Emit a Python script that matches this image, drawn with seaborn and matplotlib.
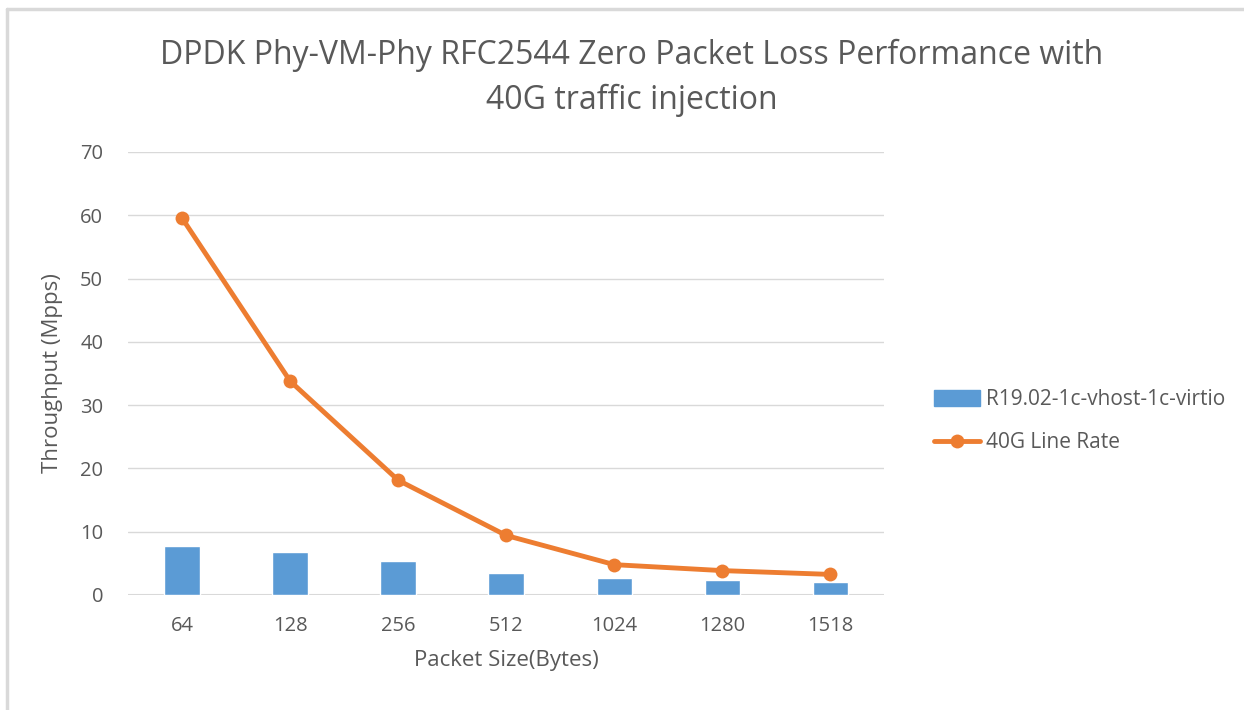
import pandas as pd
import matplotlib.pyplot as plt
import matplotlib.lines as mlines
import seaborn as sns

packet_sizes = ['64', '128', '256', '512', '1024', '1280', '1518']
vhost_virtio = [7.68, 6.81, 5.35, 3.51, 2.70, 2.43, 2.05]
line_rate = [59.52, 33.78, 18.12, 9.40, 4.79, 3.85, 3.25]

bar_name = 'R19.02-1c-vhost-1c-virtio'
line_name = '40G Line Rate'

df = pd.DataFrame({'size': packet_sizes, 'bar': vhost_virtio, 'line': line_rate})

sns.set_theme(style="white")
plt.rcParams['font.family'] = ['Open Sans', 'DejaVu Sans']

text_gray = '#595959'
grid_gray = '#d9d9d9'

fig = plt.figure(figsize=(12.44, 7.10), dpi=100)
ax = fig.add_axes([0.103, 0.162, 0.608, 0.624])

sns.barplot(data=df, x='size', y='bar', color='#5B9BD5', width=0.33,
            saturation=1, ax=ax, zorder=2)
sns.lineplot(data=df, x='size', y='line', color='#ED7D31', linewidth=3.5,
             marker='o', markersize=10, markeredgewidth=0, ax=ax,
             sort=False, zorder=3)

ax.set_ylim(0, 70)
ax.set_yticks(range(0, 71, 10))
ax.set_xlim(-0.5, 6.5)
ax.yaxis.grid(True, color=grid_gray, linewidth=1)
ax.set_axisbelow(True)
for s in ax.spines.values():
    s.set_visible(False)
ax.axhline(0, color=grid_gray, linewidth=1.5, zorder=1)
ax.tick_params(axis='both', length=0, labelsize=14.5, colors=text_gray)
ax.tick_params(axis='x', pad=15)
ax.tick_params(axis='y', pad=18)

ax.set_xlabel('Packet Size(Bytes)', fontsize=16, color=text_gray, labelpad=10)
ax.set_ylabel('Throughput (Mpps)', fontsize=16, color=text_gray, labelpad=12)

fig.suptitle('DPDK Phy-VM-Phy RFC2544 Zero Packet Loss Performance with\n40G traffic injection',
             fontsize=23, color=text_gray, x=0.508, y=0.945, linespacing=1.45)

bar_handle = plt.Rectangle((0, 0), 1, 1, color='#5B9BD5')
line_handle = mlines.Line2D([], [], color='#ED7D31', linewidth=3.5, marker='o',
                            markersize=10, markeredgewidth=0)
fig.legend([bar_handle, line_handle], [bar_name, line_name],
           loc='upper left', bbox_to_anchor=(0.736, 0.478), frameon=False,
           fontsize=15, labelcolor=text_gray, handlelength=2.2,
           handleheight=0.75, labelspacing=1.05, handletextpad=0.3)

# outer chart frame (top and left edges)
fig.add_artist(mlines.Line2D([0.006, 1], [0.988, 0.988], color=grid_gray,
                             linewidth=2.5, transform=fig.transFigure))
fig.add_artist(mlines.Line2D([0.006, 0.006], [0, 0.988], color=grid_gray,
                             linewidth=2.5, transform=fig.transFigure))

fig.savefig('out.png', dpi=100)
